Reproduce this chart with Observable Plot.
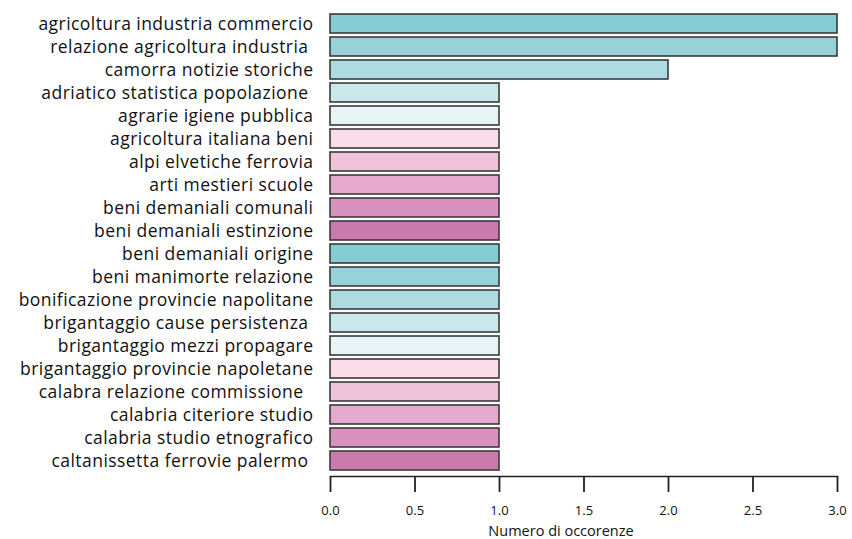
<!DOCTYPE html>
<html>
<head>
<meta charset="utf-8">
<script src="https://cdn.jsdelivr.net/npm/d3@7"></script>
<script src="https://cdn.jsdelivr.net/npm/@observablehq/plot@0.6"></script>
<style>
  html, body { margin: 0; padding: 0; background: #fff; }
  #chart svg { display: block; }
  #chart g[aria-label="y-axis tick label"] text { letter-spacing: 0.45px; }
</style>
</head>
<body>
<div id="chart"></div>
<script>
const categories = [
  "agricoltura industria commercio",
  "relazione agricoltura industria\u00a0",
  "camorra notizie storiche",
  "adriatico statistica popolazione\u00a0",
  "agrarie igiene pubblica",
  "agricoltura italiana beni",
  "alpi elvetiche ferrovia",
  "arti mestieri scuole",
  "beni demaniali comunali",
  "beni demaniali estinzione",
  "beni demaniali origine",
  "beni manimorte relazione",
  "bonificazione provincie napolitane",
  "brigantaggio cause persistenza\u00a0",
  "brigantaggio mezzi propagare",
  "brigantaggio provincie napoletane",
  "calabra relazione commissione\u00a0\u00a0",
  "calabria citeriore studio",
  "calabria studio etnografico",
  "caltanissetta ferrovie palermo\u00a0"
];
const occorrenze = [3, 3, 2, 1, 1, 1, 1, 1, 1, 1, 1, 1, 1, 1, 1, 1, 1, 1, 1, 1];
const xTicks = [0, 0.5, 1, 1.5, 2, 2.5, 3];
const xLabel = "Numero di occorenze";
const palette = ["#86ccd3", "#98d2d9", "#aedbe1", "#cae7eb", "#e7f3f5",
                 "#fbdde9", "#efc3da", "#e4a9cc", "#d991bf", "#ca7aad"];

const data = categories.map((c, i) => ({cat: c, n: occorrenze[i], col: palette[i % palette.length]}));

const plot = Plot.plot({
  width: 852,
  height: 539,
  marginLeft: 330,
  marginRight: 15,
  marginTop: 9,
  marginBottom: 63,
  style: {fontFamily: "'Open Sans', sans-serif", color: "#111", background: "#fff"},
  x: {domain: [0, 3], ticks: xTicks, label: null},
  y: {domain: categories, paddingInner: 0.17, paddingOuter: 0.06, label: null},
  marks: [
    Plot.barX(data, {x: "n", y: "cat", fill: "col", stroke: "#3a3a3a", strokeWidth: 1.6}),
    Plot.frame({anchor: "bottom", stroke: "#222", strokeWidth: 1.3}),
    Plot.axisX({ticks: xTicks, tickFormat: d => d.toFixed(1), tickSize: 16, tickPadding: 13,
      fontSize: 13, strokeWidth: 1.8, stroke: "#222", label: null}),
    Plot.text([xLabel], {frameAnchor: "bottom", text: d => d, dy: 59, dx: -23,
      fontSize: 14.5, fill: "#111"}),
    Plot.axisY({tickSize: 0, tickPadding: 17, fontSize: 17.5, label: null})
  ]
});
document.getElementById("chart").appendChild(plot);
</script>
</body>
</html>
